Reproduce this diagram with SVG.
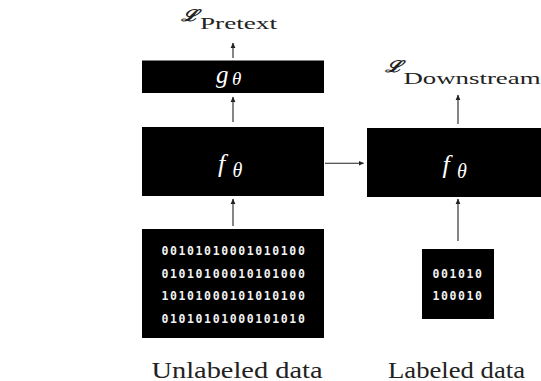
<svg xmlns="http://www.w3.org/2000/svg" width="541" height="381" viewBox="0 0 541 381">
<defs>
<style>
.box{fill:#000}
.math{font-family:"Liberation Serif",serif;font-style:italic;fill:#fff}
.bin{font-family:"DejaVu Sans Mono",monospace;font-weight:bold;font-size:11.5px;letter-spacing:1.6px;fill:#f2f2f2}
.lbl{font-family:"Liberation Serif",serif;fill:#222}
.cal{font-family:"DejaVu Serif","Liberation Serif",serif;font-style:italic;font-weight:bold;fill:#222}
.conn{stroke:#222;stroke-width:1.1;fill:none;marker-end:url(#ah)}
</style>
<marker id="ah" markerUnits="userSpaceOnUse" markerWidth="6" markerHeight="6" refX="5" refY="3" orient="auto">
<path d="M0,0.6 L5.5,3 L0,5.4 Z" fill="#222"/>
</marker>
</defs>
<rect width="541" height="381" fill="#fff"/>

<g id="loss-pretext">
<text class="cal" x="181" y="20.5" font-size="16" textLength="17" lengthAdjust="spacingAndGlyphs">ℒ</text>
<text class="lbl" x="200" y="29" font-size="16" textLength="77" lengthAdjust="spacingAndGlyphs">Pretext</text>
</g>

<g id="g-theta">
<rect class="box" x="142" y="60.5" width="182" height="32.5"/>
<text class="math" x="216" y="83" font-size="25">g</text>
<text class="math" x="232" y="85" font-size="19">θ</text>
</g>

<g id="f-theta-left">
<rect class="box" x="142" y="127" width="182" height="69"/>
<text class="math" x="218" y="172" font-size="26">f</text>
<text class="math" x="232.5" y="176.5" font-size="20">θ</text>
</g>

<g id="unlabeled-data">
<rect class="box" x="142" y="229" width="182" height="109"/>
<text class="bin" x="161.5" y="255">00101010001010100</text>
<text class="bin" x="161.5" y="277.5">01010100010101000</text>
<text class="bin" x="161.5" y="300">10101000101010100</text>
<text class="bin" x="161.5" y="322.5">01010101000101010</text>
</g>

<g id="unlabeled-label">
<text class="lbl" x="151.5" y="377.5" font-size="22.5" textLength="171" lengthAdjust="spacingAndGlyphs">Unlabeled data</text>
</g>

<g id="loss-downstream">
<text class="cal" x="385" y="72" font-size="16" textLength="17" lengthAdjust="spacingAndGlyphs">ℒ</text>
<text class="lbl" x="403.5" y="84.3" font-size="16" textLength="137" lengthAdjust="spacingAndGlyphs">Downstream</text>
</g>

<g id="f-theta-right">
<rect class="box" x="367" y="128" width="180" height="69"/>
<text class="math" x="442.5" y="173" font-size="26">f</text>
<text class="math" x="457" y="177.5" font-size="20">θ</text>
</g>

<g id="labeled-data">
<rect class="box" x="422" y="249" width="72" height="70"/>
<text class="bin" x="432.5" y="277.5">001010</text>
<text class="bin" x="432.5" y="300">100010</text>
</g>

<g id="labeled-label">
<text class="lbl" x="388" y="377.5" font-size="22.5" textLength="137" lengthAdjust="spacingAndGlyphs">Labeled data</text>
</g>

<g id="connectors">
<line class="conn" x1="233" y1="58" x2="233" y2="43"/>
<line class="conn" x1="233" y1="122" x2="233" y2="97"/>
<line class="conn" x1="233" y1="226" x2="233" y2="199"/>
<line class="conn" x1="325" y1="163.3" x2="363.5" y2="163.3"/>
<line class="conn" x1="458" y1="124" x2="458" y2="95"/>
<line class="conn" x1="458" y1="241" x2="458" y2="199"/>
</g>
</svg>
